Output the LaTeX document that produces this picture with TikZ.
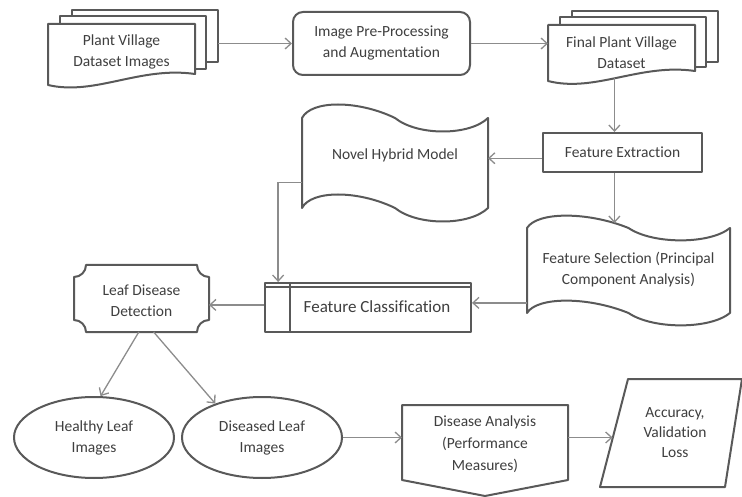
\documentclass[tikz,border=0pt]{standalone}
\usepackage{fontspec}
\setmainfont{Carlito}[Ligatures={NoCommon}]
\usetikzlibrary{arrows.meta,calc,shapes.geometric}
\definecolor{shpc}{HTML}{595959}
\definecolor{arrc}{HTML}{8C8C8C}
\definecolor{txtc}{HTML}{3F3F3F}
\tikzset{
  shp/.style={draw=shpc, line width=2pt, fill=white, line join=round},
  arr/.style={draw=arrc, line width=1.3pt, -{Straight Barb[length=6pt,width=11pt,line width=1.3pt]}},
  lbl/.style={text=txtc, font=\fontsize{15.5}{21}\selectfont, align=center, inner sep=0pt},
  ghost/.style={inner sep=0pt, outer sep=0pt, minimum width=#1},
}
\newcommand\tapeshape[5]{%
  \draw[shp] (#1,#3)
    .. controls ({#1+0.05*(#2-#1)},{#3-1.5*#5}) and ({#1+0.3*(#2-#1)},{#3-1.5*#5}) .. ({(#1+#2)/2},#3)
    .. controls ({#1+0.62*(#2-#1)},{#3+1.5*#5}) and ({#1+0.9*(#2-#1)},{#3+1.5*#5}) .. (#2,#3)
    -- (#2,#4)
    .. controls ({#1+0.9*(#2-#1)},{#4+1.5*#5}) and ({#1+0.62*(#2-#1)},{#4+1.5*#5}) .. ({(#1+#2)/2},#4)
    .. controls ({#1+0.3*(#2-#1)},{#4-1.5*#5}) and ({#1+0.05*(#2-#1)},{#4-1.5*#5}) .. (#1,#4)
    -- cycle;}
\begin{document}
\begin{tikzpicture}[x=1pt,y=-1pt]
\useasboundingbox (0,0) rectangle (742,497);

% Plant Village Dataset Images (multi-document)
\draw[shp] (72,10) rectangle (218,62);
\draw[shp] (60,16) rectangle (206,69);
\draw[shp] (48,24) -- (195,24) -- (195,74) .. controls (140,66) and (95,96) .. (48,85) -- cycle;
\node[lbl] (pv) at (121.5,52) {Plant Village\\Dataset Images};
\node[ghost=146pt, minimum height=52pt] (pvs) at (145,36) {};

% Image pre-processing
\node[shp, lbl, rounded corners=10pt, minimum width=177pt, minimum height=63pt] (pre) at (381.5,43.5) {Image Pre-Processing\\and Augmentation};

% Final Plant Village Dataset
\draw[shp] (572,11) rectangle (718,62);
\draw[shp] (560,17) rectangle (706,67);
\draw[shp] (548,25) -- (695,25) -- (695,71) .. controls (640,63) and (595,93) .. (548,81) -- cycle;
\node[lbl] (fpv) at (621.5,52.5) {Final Plant Village\\Dataset};
\node[ghost=147pt, minimum height=56pt] (fpvf) at (621.5,53) {};

% Feature extraction
\node[shp, lbl, minimum width=159pt, minimum height=39pt] (fe) at (622.5,152.5) {Feature Extraction};

% Novel hybrid model
\node[ghost=186pt, minimum height=90pt] (nhmb) at (395,163) {};
\tapeshape{302}{488}{118}{208}{12}
\node[lbl] (nhm) at (395,155) {Novel Hybrid Model};

% Feature selection
\node[ghost=203pt, minimum height=85pt] (fsb) at (628.5,270.5) {};
\tapeshape{527}{730}{228}{313}{11}
\node[lbl] (fs) at (628.5,270) {Feature Selection (Principal\\Component Analysis)};

% Feature classification
\node[shp, minimum width=206pt, minimum height=49pt, inner sep=0pt] (fc) at (368,307.5) {};
\draw[draw=shpc, line width=2pt] ($(fc.north west)+(0,5.5)$) -- ($(fc.north east)+(0,5.5)$);
\draw[draw=shpc, line width=2pt] ($(fc.north west)+(26,0)$) -- ($(fc.south west)+(26,0)$);
\node[lbl, font=\fontsize{17}{21}\selectfont] (fct) at (377,307) {Feature Classification};

% Leaf disease detection (plaque)
\node[ghost=135pt, minimum height=67pt] (ldd) at (141.5,298.5) {};
\draw[shp] (86,265) -- (197,265) .. controls (197,271.6) and (202.4,277) .. (209,277)
  -- (209,320) .. controls (202.4,320) and (197,325.4) .. (197,332)
  -- (86,332) .. controls (86,325.4) and (80.6,320) .. (74,320)
  -- (74,277) .. controls (80.6,277) and (86,271.6) .. cycle;
\node[lbl] (lddt) at (141.5,300.5) {Leaf Disease\\Detection};

% Ellipses
\node[shp, ellipse, lbl, minimum width=160pt, minimum height=81pt] (hl) at (94,437.5) {Healthy Leaf\\Images};
\node[shp, ellipse, lbl, minimum width=160pt, minimum height=81pt] (dl) at (262,437.5) {Diseased Leaf\\Images};

% Disease analysis (off-page connector)
\node[ghost=166pt, minimum height=75pt] (da) at (485,442.5) {};
\draw[shp] (402,405) -- (568,405) -- (568,480) -- (485,496) -- (402,480) -- cycle;
\node[lbl, font=\fontsize{15.5}{22}\selectfont] (dat) at (485,444.5) {Disease Analysis\\(Performance\\Measures)};

% Accuracy (parallelogram)
\draw[shp] (628,379) -- (742,379) -- (725,487) -- (600,487) -- cycle;
\node[lbl, font=\fontsize{15.5}{20}\selectfont] (acc) at (675,433) {Accuracy,\\Validation\\Loss};
\coordinate (accin) at (612.6,437.5);

% Connectors
\draw[arr] (pvs.east |- pre.west) -- (pre.west);
\draw[arr] (pre.east) -- (pre.east -| fpvf.west);
\coordinate (fetop) at ($(fe.north west)!0.45!(fe.north east)$);
\draw[arr] ($(fetop |- fpvf.south)+(0,-3)$) -- (fetop);
\coordinate (fel) at ($(fe.north west)!0.64!(fe.south west)$);
\draw[arr] (fel) -- (fel -| nhmb.east);
\draw[arr] (fetop |- fe.south) -- ($(fetop |- fsb.north)+(0,-5)$);
\coordinate (fcr) at ($(fc.north east)!0.41!(fc.south east)$);
\draw[arr] (fcr -| fsb.west) -- (fcr);
\coordinate (nhml) at ($(nhmb.north west)!0.72!(nhmb.south west)$);
\coordinate (fcin) at ($(fc.north west)!0.068!(fc.north east)$);
\draw[arr] (nhml) -| (fcin);
\coordinate (fcl) at ($(fc.north west)!0.45!(fc.south west)$);
\draw[arr] (fcl) -- (fcl -| ldd.east);
\draw[arr] ($(ldd.south west)!0.48!(ldd.south east)$) -- (hl.81);
\draw[arr] ($(ldd.south west)!0.59!(ldd.south east)$) -- (dl.144);
\draw[arr] (dl.east) -- (dl.east -| da.west);
\draw[arr] (dl.east -| da.east) -- (accin);
\end{tikzpicture}
\end{document}
